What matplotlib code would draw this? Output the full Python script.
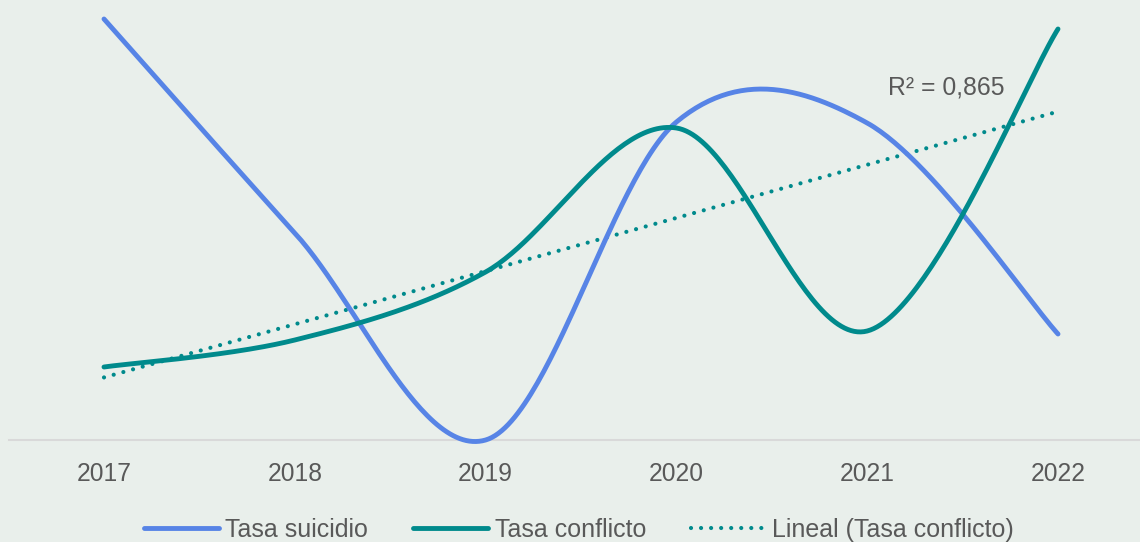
import numpy as np
import matplotlib
matplotlib.use("Agg")
import matplotlib.pyplot as plt
from matplotlib.lines import Line2D

years = ["2017", "2018", "2019", "2020", "2021", "2022"]
tasa_suicidio = [421, 207, 0, 318, 317, 106]
tasa_conflicto = [73, 100, 168, 312, 109, 411]
r2_label = "R² = 0,865"

BG = "#E9EFEB"
BLUE = "#5784E6"
TEAL = "#008A8C"
TXT = "#595959"

plt.rcParams['font.family'] = ['Liberation Sans', 'DejaVu Sans']


def smooth(y, n=60):
    """Excel-like smoothed line: cubic Bezier with Catmull-Rom control points."""
    x = np.arange(len(y), dtype=float)
    y = np.asarray(y, dtype=float)
    pts = np.column_stack([x, y])
    out = []
    for i in range(len(pts) - 1):
        p0 = pts[i - 1] if i > 0 else pts[i]
        p1 = pts[i]
        p2 = pts[i + 1]
        p3 = pts[i + 2] if i + 2 < len(pts) else pts[i + 1]
        c1 = p1 + (p2 - p0) / 6.0
        c2 = p2 - (p3 - p1) / 6.0
        t = np.linspace(0, 1, n)[:, None]
        seg = ((1 - t) ** 3) * p1 + 3 * ((1 - t) ** 2) * t * c1 + 3 * (1 - t) * t ** 2 * c2 + t ** 3 * p2
        if i > 0:
            seg = seg[1:]
        out.append(seg)
    out = np.vstack(out)
    return out[:, 0], out[:, 1]


W, H = 1140, 542
fig = plt.figure(figsize=(W / 100, H / 100), dpi=100, facecolor=BG)
left_px, right_px = 8.6, 1153.4
bottom_px = 440
ax = fig.add_axes([left_px / W, (H - bottom_px) / H, (right_px - left_px) / W, bottom_px / H])
ax.set_facecolor(BG)
ax.set_xlim(-0.5, 5.5)
ax.set_ylim(0, 440)

x = np.arange(len(years))
sx, sy = smooth(tasa_suicidio)
cx, cy = smooth(tasa_conflicto)

LW = 3.5
DOT = (0, (0.01, 2.4))
ax.plot(sx, sy, color=BLUE, lw=LW, solid_capstyle='round', clip_on=False, zorder=3)
ax.plot(cx, cy, color=TEAL, lw=LW, solid_capstyle='round', clip_on=False, zorder=4)

slope, intercept = np.polyfit(x, tasa_conflicto, 1)
tx = np.array([x[0], x[-1]], dtype=float)
ax.plot(tx, slope * tx + intercept, color=TEAL, lw=3.0, linestyle=DOT,
        dash_capstyle='round', zorder=2)

ax.text(4.11, 353, r2_label, fontsize=17.8, color=TXT, va='center', ha='left')

for s in ['top', 'right', 'left']:
    ax.spines[s].set_visible(False)
ax.spines['bottom'].set_color('#D9D9D9')
ax.spines['bottom'].set_linewidth(1.5)
ax.set_yticks([])
ax.set_xticks(x)
ax.set_xticklabels(years, fontsize=17.7, color=TXT)
ax.tick_params(axis='x', length=0, pad=16)

handles = [
    Line2D([], [], color=BLUE, lw=LW, solid_capstyle='round'),
    Line2D([], [], color=TEAL, lw=LW, solid_capstyle='round'),
    Line2D([], [], color=TEAL, lw=3.0, linestyle=DOT, dash_capstyle='round'),
]
labels = ["Tasa suicidio", "Tasa conflicto", "Lineal (Tasa conflicto)"]
leg = fig.legend(handles, labels, loc='center', bbox_to_anchor=(0.508, 0.022), ncol=3,
                 frameon=False, fontsize=18, handlelength=3.0, handletextpad=0.25,
                 columnspacing=1.8, borderpad=0)
for t in leg.get_texts():
    t.set_color(TXT)

fig.savefig("out.png", dpi=100, facecolor=BG)
